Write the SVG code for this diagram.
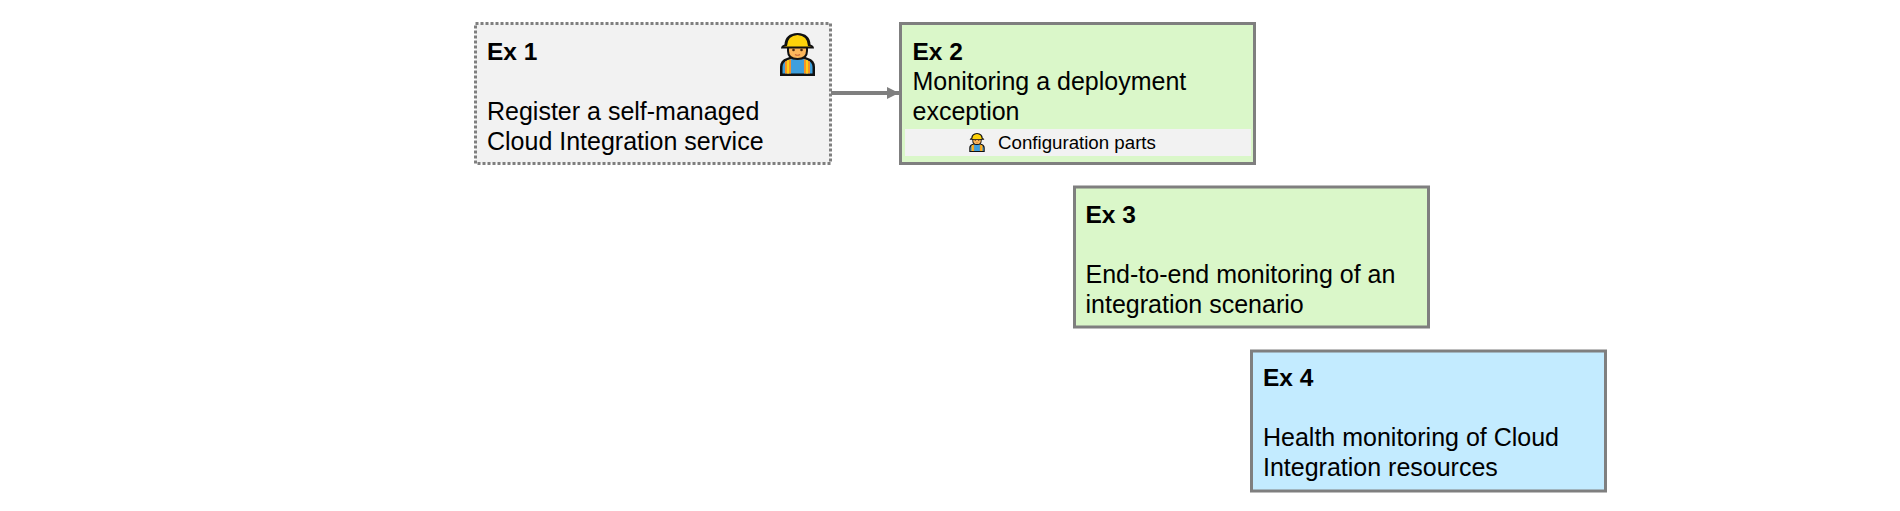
<svg xmlns="http://www.w3.org/2000/svg" width="1900" height="511" viewBox="0 0 1900 511">
<style>
text{font-family:"Liberation Sans",Arial,sans-serif;font-size:25px;fill:#000}
.b{font-weight:bold;font-size:24.500px}
.box{stroke:#7f7f7f;stroke-width:3}
.conn{stroke:#7f7f7f;stroke-width:4;fill:none}
</style>
<defs>
<marker id="arrow" markerUnits="userSpaceOnUse" markerWidth="13" markerHeight="12" refX="12" refY="6" orient="auto"><path d="M0 0L12 6L0 12z" fill="#7f7f7f"/></marker>
<symbol id="worker" viewBox="0 0 35 43" overflow="visible">
<path d="M0 43V34Q0 27 7 25L12 23H23L28 25Q35 27 35 34V43z" fill="#111"/>
<path d="M2.500 40.500V34Q2.500 29 8 27L12 25.500H23L27 27Q32.500 29 32.500 34V40.500z" fill="#3f9fdc"/>
<path d="M5 40.500V28.500L11 26V40.500zM24 26L30 28.500V40.500H24z" fill="#f79329"/>
<path d="M7 40.500V27.500L9 26.700V40.500zM26 26.700L28 27.500V40.500H26z" fill="#fcd116"/>
<path d="M7 12Q7 4 17.500 4T28 12V18Q28 27 17.500 27T7 18z" fill="#111"/>
<path d="M9 12H26V18Q26 25 17.500 25T9 18z" fill="#fbb65c"/>
<circle cx="13.500" cy="17" r="1.300" fill="#4a2a10"/><circle cx="21.500" cy="17" r="1.300" fill="#4a2a10"/>
<path d="M15 21.500Q17.500 23 20 21.500" stroke="#c7683a" stroke-width="1.200" fill="none"/>
<path d="M1 15.500Q1 12.500 4.500 11.500Q5 0.500 17.500 0Q30 0.500 30.500 11.500Q34 12.500 34 15.500z" fill="#111"/>
<path d="M3.500 13.500Q4.500 13 7 13Q7.500 2.500 17.500 2Q27.500 2.500 28 13Q30.500 13 31.500 13.500z" fill="#fdd20a"/>
</symbol>
</defs>
<rect width="1900" height="511" fill="#fff"/>
<g id="connectors"><line class="conn" x1="831" y1="93" x2="899" y2="93" marker-end="url(#arrow)"/></g>
<g id="ex1">
<rect x="475.500" y="23.500" width="355" height="140" fill="#f2f2f2" stroke="#7f7f7f" stroke-width="3" stroke-dasharray="3 2"/>
<use href="#worker" x="780" y="33" width="35" height="43"/>
<text class="b" x="487" y="59.500">Ex 1</text>
<text x="487" y="119.500">Register a self-managed</text>
<text x="487" y="149.500">Cloud Integration service</text>
</g>
<g id="ex2">
<rect class="box" x="900.500" y="23.500" width="354" height="140" fill="#daf7c9"/>
<rect x="905" y="129" width="346" height="27" fill="#f2f2f2"/>
<use href="#worker" x="969" y="133" width="16" height="19"/>
<text class="b" x="912.500" y="59.500">Ex 2</text>
<text x="912.500" y="89.500">Monitoring a deployment</text>
<text x="912.500" y="119.500">exception</text>
<text x="998" y="148.500" style="font-size:18.700px">Configuration parts</text>
</g>
<g id="ex3">
<rect class="box" x="1074.500" y="187" width="354" height="140" fill="#daf7c9"/>
<text class="b" x="1085.500" y="222.500">Ex 3</text>
<text x="1085.500" y="282.500">End-to-end monitoring of an</text>
<text x="1085.500" y="312.500">integration scenario</text>
</g>
<g id="ex4">
<rect class="box" x="1251.500" y="351" width="354" height="140" fill="#c3ebff"/>
<text class="b" x="1263" y="385.500">Ex 4</text>
<text x="1263" y="445.500">Health monitoring of Cloud</text>
<text x="1263" y="475.500">Integration resources</text>
</g>
</svg>
